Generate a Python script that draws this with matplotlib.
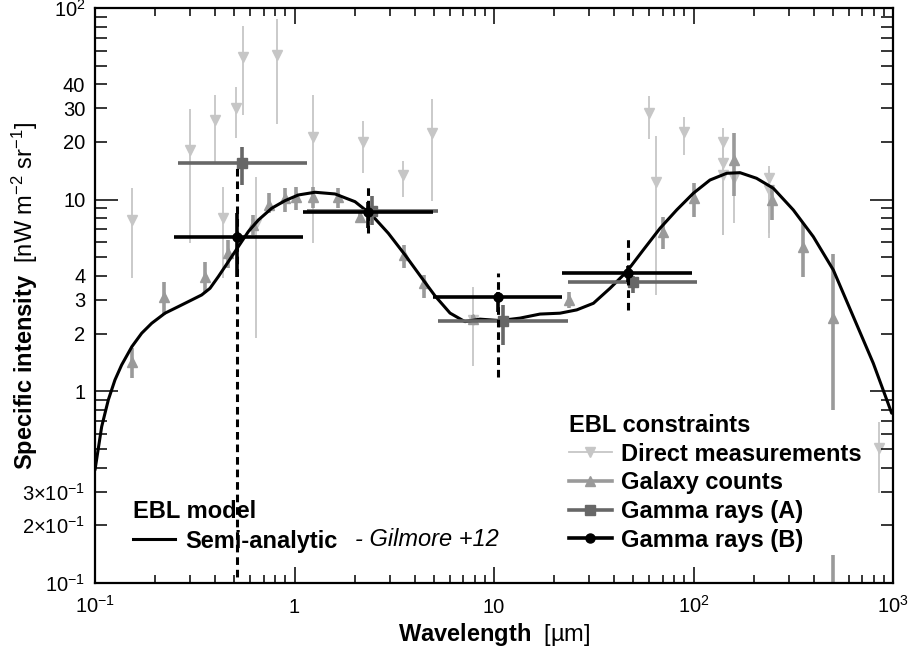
import matplotlib
matplotlib.use("Agg")
import matplotlib.pyplot as plt
import numpy as np
from matplotlib.lines import Line2D
from matplotlib.ticker import LogLocator, FuncFormatter, NullFormatter

plt.rcParams['font.family'] = ['Liberation Sans', 'DejaVu Sans']
plt.rcParams['mathtext.fontset'] = 'custom'
plt.rcParams['mathtext.rm'] = 'Liberation Sans'
plt.rcParams['mathtext.it'] = 'Liberation Sans:italic'
plt.rcParams['mathtext.bf'] = 'Liberation Sans:bold'

# ---------------- data ----------------
# Direct measurements (light gray, downward triangles)
direct_wl = [0.153, 0.299, 0.40, 0.436, 0.509, 0.550, 0.641, 0.815, 1.243, 2.20, 3.49,
             4.89, 7.82, 60.0, 64.9, 89.9, 140, 140, 140, 160, 240, 240, 854]
direct_val = [7.84, 18.2, 26.1, 8.0, 30.0, 55.3, 7.5, 56.9, 21.2, 20.1, 13.4,
              22.3, 2.36, 28.2, 12.4, 22.6, 20.1, 15.5, 13.4, 13.0, 12.9, 11.2, 0.505]
direct_lo = [3.90, 5.95, 15.8, 3.9, 21.0, 27.7, 1.90, 24.8, 5.95, 13.8, 10.3,
             9.8, 1.35, 20.7, 3.18, 17.1, 13.4, 6.55, 6.55, 7.56, 6.70, 6.31, 0.295]
direct_hi = [11.5, 29.7, 35.2, 11.7, 38.9, 80.5, 13.2, 87.6, 35.2, 25.7, 15.9,
             33.5, 3.52, 34.8, 21.5, 27.0, 23.7, 20.5, 18.9, 16.1, 14.9, 14.3, 0.695]

# Galaxy counts (medium gray, upward triangles)
gal_wl = [0.153, 0.222, 0.356, 0.466, 0.616, 0.748, 0.896, 1.017, 1.243, 1.646, 2.13,
          3.54, 4.48, 7.82, 23.8, 70.6, 100.9, 160, 247, 355, 502, 502]
gal_val = [1.43, 3.09, 3.97, 5.25, 7.38, 9.39, 10.2, 10.3, 10.3, 10.3, 8.15,
           5.15, 3.66, 2.38, 3.00, 6.81, 10.2, 16.1, 9.96, 5.69, 2.41, 0.06]
gal_lo = [1.175, 2.50, 3.26, 4.40, 6.55, 8.53, 8.66, 8.84, 9.02, 9.02, 7.84,
          4.40, 3.07, 2.25, 2.72, 5.51, 8.15, 10.4, 7.84, 3.97, 0.80, 0.04]
gal_hi = [1.68, 3.73, 4.75, 6.16, 8.32, 10.8, 11.5, 11.7, 11.7, 11.5, 8.66,
          5.81, 4.05, 2.50, 3.31, 8.15, 12.2, 22.3, 11.9, 7.6, 5.2, 0.14]

# Gamma rays (A)
ga_wl = [0.543, 2.44, 11.05, 49.9]
ga_val = [15.5, 8.75, 2.33, 3.73]
ga_lo = [11.9, 7.38, 1.75, 3.26]
ga_hi = [18.9, 10.4, 2.82, 4.0]
ga_wl_lo = [0.262, 1.16, 5.24, 23.4]
ga_wl_hi = [1.16, 5.24, 23.4, 104.5]

# Gamma rays (B)
gb_wl = [0.516, 2.33, 10.43, 46.8]
gb_val = [6.41, 8.66, 3.10, 4.16]
gb_stat_lo = [3.97, 7.12, 2.60, 3.70]
gb_stat_hi = [8.5, 9.77, 3.31, 4.5]
gb_sys_lo = [0.08, 6.70, 1.19, 2.66]
gb_sys_hi = [14.8, 11.7, 4.15, 6.24]
gb_wl_lo = [0.250, 1.107, 4.95, 22.0]
gb_wl_hi = [1.107, 4.95, 22.0, 98.6]

# Semi-analytic model (Gilmore+12)
model_wl = [0.1, 0.108, 0.1166, 0.1259, 0.136, 0.153, 0.1714, 0.1924, 0.2243, 0.2616,
            0.3053, 0.3425, 0.3771, 0.415, 0.466, 0.5227, 0.5867, 0.6589, 0.7687,
            0.896, 1.045, 1.267, 1.596, 2.011, 2.438, 2.953, 3.58, 4.42, 5.06, 6.02,
            7.15, 8.51, 10.7, 13.5, 17.0, 21.42, 25.98, 31.5, 38.15, 46.27, 56.0,
            67.95, 82.37, 99.8, 120.9, 146.7, 171, 207, 251.2, 316.4, 398.6, 502,
            632.4, 796.5, 985]
model_val = [0.389, 0.654, 0.902, 1.147, 1.373, 1.71, 2.01, 2.265, 2.557, 2.767,
             2.998, 3.183, 3.448, 3.966, 4.748, 5.685, 6.81, 7.83, 9.02,
             9.88, 10.58, 10.93, 10.71, 9.76, 8.32, 6.68, 5.15, 3.81, 3.15, 2.56,
             2.31, 2.38, 2.34, 2.41, 2.53, 2.557, 2.66, 2.88, 3.448, 4.21, 5.465,
             7.09, 8.84, 10.8, 12.66, 13.73, 13.83, 12.93, 11.47, 8.84, 6.41, 4.30,
             2.454, 1.401, 0.769]

c_direct = '#c6c6c6'
c_gal = '#9a9a9a'
c_ga = '#676767'
c_gb = '#000000'

fig = plt.figure(figsize=(9.09, 6.54), dpi=100)
ax = fig.add_axes([95 / 909, 1 - 583 / 654, (893 - 95) / 909, (583 - 8) / 654])
ax.set_xscale('log')
ax.set_yscale('log')
ax.set_xlim(0.1, 1000)
ax.set_ylim(0.1, 100)


def asym(v, lo, hi):
    v = np.asarray(v); lo = np.asarray(lo); hi = np.asarray(hi)
    return [v - lo, hi - v]


ax.errorbar(direct_wl, direct_val, yerr=asym(direct_val, direct_lo, direct_hi),
            fmt='v', color=c_direct, ms=7.5, elinewidth=1.3, capsize=0, zorder=1)
ax.errorbar(gal_wl, gal_val, yerr=asym(gal_val, gal_lo, gal_hi),
            fmt='^', color=c_gal, ms=7.5, elinewidth=2.6, capsize=0, zorder=2)
ax.plot(model_wl, model_val, color='k', lw=2.2, zorder=3,
        solid_joinstyle='round', solid_capstyle='round')
ax.errorbar(ga_wl, ga_val, yerr=asym(ga_val, ga_lo, ga_hi),
            xerr=asym(ga_wl, ga_wl_lo, ga_wl_hi),
            fmt='s', color=c_ga, ms=7, elinewidth=2.6, capsize=0, zorder=4)
ax.vlines(gb_wl, gb_sys_lo, gb_sys_hi, colors=c_gb, linestyles=(0, (2.5, 1.6)),
          lw=2.2, zorder=5)
ax.errorbar(gb_wl, gb_val, yerr=asym(gb_val, gb_stat_lo, gb_stat_hi),
            xerr=asym(gb_wl, gb_wl_lo, gb_wl_hi),
            fmt='o', color=c_gb, ms=6.5, elinewidth=2.6, capsize=0, zorder=6)

# ---------------- ticks ----------------
for s in ax.spines.values():
    s.set_linewidth(1.6)

ax.xaxis.set_major_locator(LogLocator(base=10, numticks=10))
ax.xaxis.set_minor_locator(LogLocator(base=10, subs=np.arange(2, 10), numticks=20))
xlab = {0.1: r'$10^{-1}$', 1.0: '1', 10.0: '10', 100.0: r'$10^{2}$', 1000.0: r'$10^{3}$'}
ax.xaxis.set_major_formatter(FuncFormatter(lambda v, p: xlab.get(round(v, 6), '')))
ax.xaxis.set_minor_formatter(NullFormatter())

ax.yaxis.set_major_locator(LogLocator(base=10, numticks=10))
ax.yaxis.set_minor_locator(LogLocator(base=10, subs=np.arange(2, 10), numticks=20))
ymaj = {0.1: r'$10^{-1}$', 1.0: '1', 10.0: '10', 100.0: r'$10^{2}$'}
ymin = {0.2: r'$2{\times}10^{-1}$', 0.3: r'$3{\times}10^{-1}$', 2.0: '2', 3.0: '3',
        4.0: '4', 20.0: '20', 30.0: '30', 40.0: '40'}
ax.yaxis.set_major_formatter(FuncFormatter(lambda v, p: ymaj.get(round(v, 6), '')))
ax.yaxis.set_minor_formatter(FuncFormatter(lambda v, p: ymin.get(round(v, 6), '')))

ax.tick_params(which='both', direction='in', top=True, right=True, width=1.1,
               labelsize=14.5)
ax.tick_params(axis='y', which='major', length=16.5, pad=7)
ax.tick_params(axis='y', which='minor', length=8.6, pad=7)
ax.tick_params(axis='x', which='major', length=11.5, pad=21.5)
ax.tick_params(axis='x', which='minor', length=5.5)
for t in ax.get_xticklabels():
    t.set_verticalalignment('baseline')

ax.set_xlabel(r'$\mathbf{Wavelength}$  [µm]', fontsize=17)
ax.xaxis.set_label_coords(0.5, -0.066)
ax.xaxis.label.set_verticalalignment('top')
ax.set_ylabel(r'$\mathbf{Specific\ intensity}$  [nW m$^{-2}$ sr$^{-1}$]', fontsize=17)
ax.yaxis.set_label_coords(-0.069, 0.5)

# ---------------- legends ----------------
bold = {'weight': 'bold', 'size': 17}
h_model = Line2D([], [], color='k', lw=2.2)
leg1 = ax.legend([h_model], ['Semi-analytic'], title='EBL model',
                 loc='upper left', bbox_to_anchor=(0.0476, 0.145), frameon=False,
                 prop=bold, title_fontproperties=bold, alignment='left',
                 handlelength=1.8, handletextpad=0.4, labelspacing=0.3,
                 borderpad=0, borderaxespad=0)
ax.add_artist(leg1)
ax.text((355 - 95) / 798, (583 - 540) / 575, '- Gilmore +12', style='italic',
        fontsize=17, va='center', ha='left', transform=ax.transAxes)

hs = [Line2D([], [], color=c_direct, lw=1.3, marker='v', ms=7.5),
      Line2D([], [], color=c_gal, lw=2.6, marker='^', ms=7.5),
      Line2D([], [], color=c_ga, lw=2.6, marker='s', ms=7),
      Line2D([], [], color=c_gb, lw=2.6, marker='o', ms=6.5)]
leg2 = ax.legend(hs, ['Direct measurements', 'Galaxy counts', 'Gamma rays (A)',
                      'Gamma rays (B)'], title='EBL constraints',
                 loc='upper left', bbox_to_anchor=(0.594, 0.294), frameon=False,
                 prop=bold, title_fontproperties=bold, alignment='left',
                 handlelength=1.8, handletextpad=0.4, labelspacing=0.24,
                 borderpad=0, borderaxespad=0)

fig.savefig('out.png', dpi=100)
